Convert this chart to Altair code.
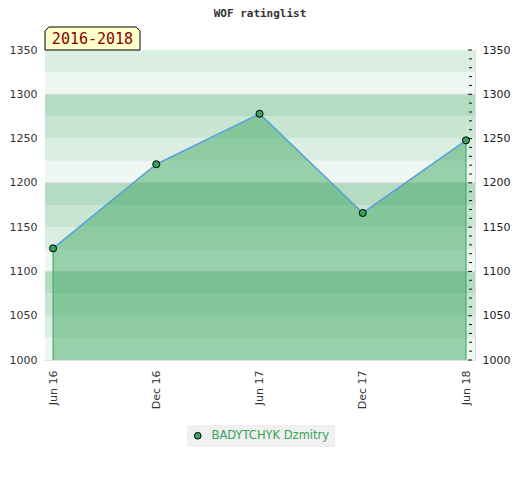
import json
import altair as alt
import pandas as pd

# ---- data ----
periods = ["Jun 16", "Dec 16", "Jun 17", "Dec 17", "Jun 18"]
ratings = [1126, 1221, 1278, 1166, 1248]
player = "BADYTCHYK Dzmitry"
y_labels = [1000, 1050, 1100, 1150, 1200, 1250, 1300, 1350]
grid_values = [1100, 1200, 1300]
period_label = "2016-2018"
chart_title = "WOF ratinglist"

idx = list(range(len(periods)))
df = pd.DataFrame({"i": idx, "period": periods, "rating": ratings, "player": player})
ends = df.iloc[[0, -1]].copy()

band_shades = ["#eff7f2", "#dbeee2", "#c8e6d3", "#b3dcc3"]
band_lo = list(range(1000, 1350, 25))
bands = pd.DataFrame({
    "lo": band_lo,
    "hi": [v + 25 for v in band_lo],
    "shade": [band_shades[k % 4] for k in range(len(band_lo))],
})
minor_vals = [v for v in range(1000, 1351, 10) if v % 50 != 0]
minor_ticks_df = pd.DataFrame({"v": minor_vals})
major_ticks_df = pd.DataFrame({"v": y_labels})
grid = pd.DataFrame({"v": grid_values})

W, H = 430, 310
GREEN = "#38a35c"
FONT = "DejaVu Sans"

yscale = alt.Scale(domain=[1000, 1350], nice=False, zero=False)
xscale = alt.Scale(domain=[-0.078, 4.087], nice=False, zero=False)
label_expr = json.dumps(periods) + "[datum.value]"

x_axis = alt.Axis(values=idx, labelExpr=label_expr, labelAngle=-90, ticks=False,
                  domain=False, grid=False, labelPadding=10, labelFontSize=11,
                  labelColor="#333333", labelFont=FONT, title=None)

bands_layer = alt.Chart(bands).mark_rect().encode(
    y=alt.Y("lo:Q", scale=yscale,
            axis=alt.Axis(values=y_labels, format="d", ticks=False, domain=False, grid=False,
                          labelPadding=8, labelFontSize=11, labelColor="#333333",
                          labelFont=FONT, title=None)),
    y2="hi:Q",
    color=alt.Color("shade:N", scale=None),
)

grid_layer = alt.Chart(grid).mark_rule(color="#d6d6d6", strokeWidth=1).encode(
    y=alt.Y("v:Q", scale=yscale, axis=None),
)

area = alt.Chart(df).mark_area(color=GREEN, opacity=0.47).encode(
    x=alt.X("i:Q", scale=xscale, axis=x_axis),
    y=alt.Y("rating:Q", scale=yscale, axis=None),
    y2=alt.datum(1000),
)

edges = alt.Chart(ends).mark_rule(color=GREEN, strokeWidth=1).encode(
    x=alt.X("i:Q", scale=xscale),
    y=alt.Y("rating:Q", scale=yscale, axis=None),
    y2=alt.datum(1000),
)

line = alt.Chart(df).mark_line(color="#5aa0d8", strokeWidth=1.5).encode(
    x=alt.X("i:Q", scale=xscale),
    y=alt.Y("rating:Q", scale=yscale, axis=None),
)

points = alt.Chart(df).mark_point(filled=True, size=50, stroke="black",
                                  strokeWidth=1, opacity=1, fillOpacity=1).encode(
    x=alt.X("i:Q", scale=xscale),
    y=alt.Y("rating:Q", scale=yscale, axis=None),
    color=alt.Color("player:N", scale=alt.Scale(range=[GREEN]),
                    legend=alt.Legend(title=None, orient="none", legendX=142, legendY=375,
                                      fillColor="#f0f0f0", padding=5,
                                      labelColor=GREEN, labelFontSize=11.5, labelFont=FONT,
                                      symbolStrokeColor="black", symbolStrokeWidth=1,
                                      symbolSize=45, symbolType="circle", labelOffset=8)),
)

minor_layer = alt.Chart(minor_ticks_df).mark_rule(color="#111111", strokeWidth=1).encode(
    y=alt.Y("v:Q", scale=yscale, axis=None),
    x=alt.value(W - 6),
    x2=alt.value(W - 3),
)

major_layer = alt.Chart(major_ticks_df).mark_rule(color="#111111", strokeWidth=1).encode(
    y=alt.Y("v:Q", scale=yscale,
            axis=alt.Axis(orient="right", values=y_labels, format="d", ticks=False,
                          domain=False, grid=False, labelPadding=7, labelFontSize=11,
                          labelColor="#222222", labelFont=FONT, title=None)),
    x=alt.value(W - 7),
    x2=alt.value(W - 3),
)

box_path = "M -1 0.242 L -1 -0.16 L -0.92 -0.242 L 0.92 -0.242 L 1 -0.16 L 1 0.242 Z"
box = alt.Chart(pd.DataFrame({"t": [period_label]})).mark_point(
    shape=box_path, size=95 * 95, filled=True, fill="#ffffcc", stroke="black",
    strokeWidth=1, opacity=1, fillOpacity=1,
).encode(x=alt.value(47.5), y=alt.value(-11.5))

box_text = alt.Chart(pd.DataFrame({"t": [period_label]})).mark_text(
    font="DejaVu Sans Mono", fontSize=15, color="#880000", baseline="middle", align="center",
).encode(x=alt.value(47.5), y=alt.value(-11), text="t:N")

chart = alt.layer(
    bands_layer, grid_layer, area, edges, line, points, minor_layer, major_layer, box, box_text
).resolve_scale(
    y="shared"
).resolve_axis(
    y="independent"
).properties(
    width=W, height=H,
    title=alt.TitleParams(chart_title, font="DejaVu Sans Mono", fontSize=11, fontWeight="bold",
                          color="#333333", anchor="middle", offset=6),
    autosize=alt.AutoSizeParams(type="none"),
    padding={"left": 37, "top": 42, "right": 37, "bottom": 112},
).configure_view(
    stroke="#d3d3d3", strokeWidth=1
).configure(background="white")

chart.save("out.html", embed_options={"renderer": "svg", "actions": False})
